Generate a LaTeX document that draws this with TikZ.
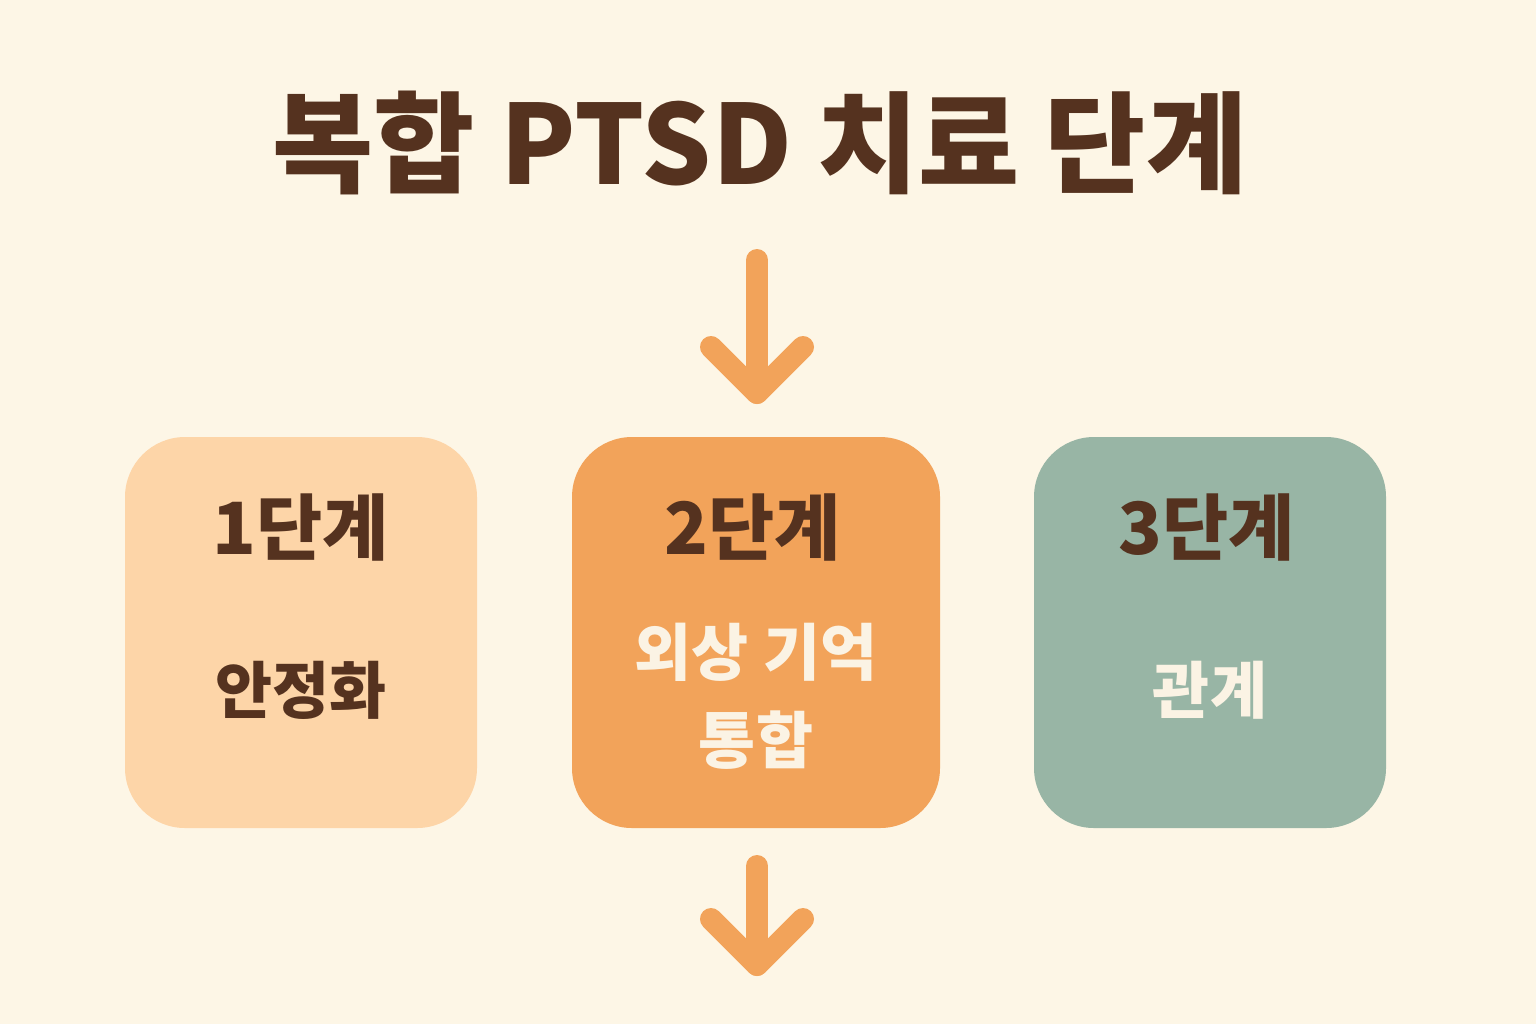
\documentclass[tikz,border=0pt]{standalone}
\usepackage{fontspec}
\setmainfont{Noto Sans CJK KR}
\definecolor{bg}{HTML}{FDF6E6}
\definecolor{ink}{HTML}{55321F}
\definecolor{boxa}{HTML}{FDD5A8}
\definecolor{boxb}{HTML}{F2A35A}
\definecolor{boxc}{HTML}{98B5A5}
\definecolor{lite}{HTML}{FBF3E4}
\begin{document}
\begin{tikzpicture}[x=0.5pt,y=-0.5pt,
  stage/.style={rounded corners=30pt,inner sep=0pt,minimum width=176pt,minimum height=195.5pt},
  arr/.style={draw=boxb,line width=11pt,line cap=round,line join=round},
  lbl/.style={font=\bfseries\fontsize{36}{40}\selectfont,text=ink},
  sub/.style={font=\bfseries\fontsize{31}{44}\selectfont,align=center}]
\fill[bg] (0,0) rectangle (1536,1024);
\node[font=\bfseries\fontsize{55}{60}\selectfont,text=ink] (title) at (760,143) {복합 PTSD 치료 단계};
\node[stage,fill=boxa] (s1) at (301,632.5) {};
\node[stage,fill=boxb,minimum width=184pt] (s2) at (756,632.5) {};
\node[stage,fill=boxc] (s3) at (1210,632.5) {};
\node[lbl] (l1) at (301,527) {1단계};
\node[lbl] (l2) at (753,527) {2단계};
\node[lbl] (l3) at (1207,527) {3단계};
\node[sub,text=ink] (t1) at (301,690) {안정화};
\node[sub,text=lite] (t2) at (756,696) {외상 기억\\통합};
\node[sub,text=lite] (t3) at (1210,690) {관계};
\coordinate (a1s) at (757,260); \coordinate (a1e) at (757,393);
\coordinate (a1l) at (711,347); \coordinate (a1r) at (803,347);
\coordinate (a2s) at (757,866); \coordinate (a2e) at (757,965);
\coordinate (a2l) at (711,919); \coordinate (a2r) at (803,919);
\draw[arr] (a1s) -- (a1e); \draw[arr] (a1l) -- (a1e) -- (a1r);
\draw[arr] (a2s) -- (a2e); \draw[arr] (a2l) -- (a2e) -- (a2r);
\end{tikzpicture}
\end{document}
